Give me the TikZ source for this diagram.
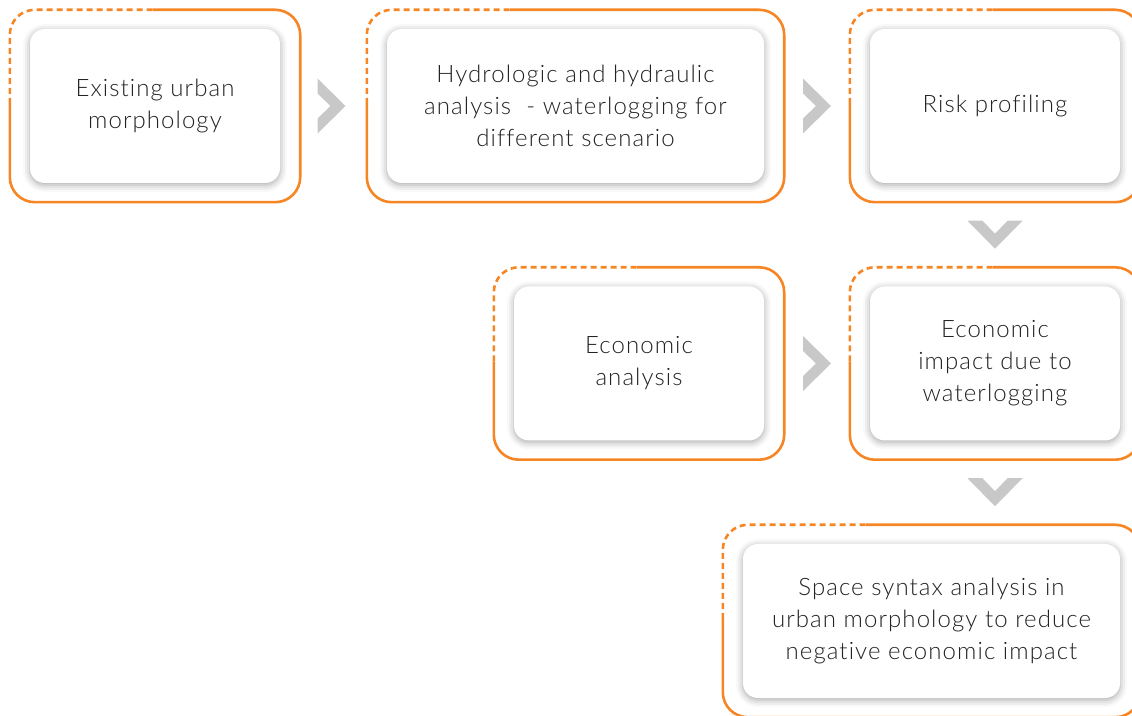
\documentclass[tikz,border=0pt]{standalone}
\usepackage{fontspec}
\setmainfont{Lato}[UprightFont=* Light, LetterSpace=4.5, Ligatures={NoCommon}]
\usetikzlibrary{calc,shadows.blur}
\definecolor{frameorange}{RGB}{246,134,36}
\definecolor{chevgray}{RGB}{200,200,200}
\definecolor{txtgray}{RGB}{35,35,35}
\tikzset{
  card/.style={fill=white, rounded corners=15pt, minimum height=154pt, align=center,
    inner sep=0pt, text=txtgray, font=\fontsize{24}{32}\selectfont,
    blur shadow={shadow xshift=0pt, shadow yshift=-2pt, shadow blur radius=7pt, shadow opacity=35}},
  cardS/.style={card, minimum width=250pt},
  cardL/.style={card, minimum width=377pt},
  frameline/.style={draw=frameorange, line width=2.6pt, rounded corners=25pt},
  framedash/.style={frameline, dash pattern=on 6pt off 4pt},
  chevron/.pic={\fill[chevgray] (-14,27.5) -- (14,0) -- (-14,-27.5) -- (-14,-12.5) -- (-1,0) -- (-14,12.5) -- cycle;}
}
\newcommand\cardframe[1]{%
  \draw[frameline] ($(#1.north west)+(123,19)$) -- ($(#1.north east)+(20,19)$)
     -- ($(#1.south east)+(20,-19)$) -- ($(#1.south west)+(-20,-19)$) -- ($(#1.north west)+(-20,-75)$);
  \draw[framedash] ($(#1.north west)+(-20,-75)$) -- ($(#1.north west)+(-20,19)$) -- ($(#1.north west)+(123,19)$);
}
\begin{document}
\begin{tikzpicture}[x=1pt,y=1pt]
\useasboundingbox (0,0) rectangle (1132,715);
\clip (0,0) rectangle (1132,715);
\node[cardS] (b1) at (155,609) {Existing urban\\morphology};
\node[cardL] (b2) at (575.5,609) {Hydrologic and hydraulic\\analysis\ \ - waterlogging for\\different scenario};
\node[cardS] (b3) at (995,609) {Risk profiling};
\node[cardS] (b4) at (639,351.5) {Economic\\analysis};
\node[cardS] (b5) at (995,351.5) {Economic\\impact due to\\waterlogging};
\node[cardL] (b6) at (931.5,94) {Space syntax analysis in\\urban morphology to reduce\\negative economic impact};
\cardframe{b1}
\cardframe{b2}
\cardframe{b3}
\cardframe{b4}
\cardframe{b5}
\cardframe{b6}
\pic at ($(b1.east)!0.5!(b2.west)+(-2,0)$) {chevron};
\pic at ($(b2.east)!0.5!(b3.west)$) {chevron};
\pic at ($(b4.east)!0.5!(b5.west)$) {chevron};
\pic[rotate=-90] at ($(b3.south)!0.5!(b5.north)$) {chevron};
\pic[rotate=-90] at ($(b5.south)!0.5!(b5.south |- b6.north)$) {chevron};
\end{tikzpicture}
\end{document}
